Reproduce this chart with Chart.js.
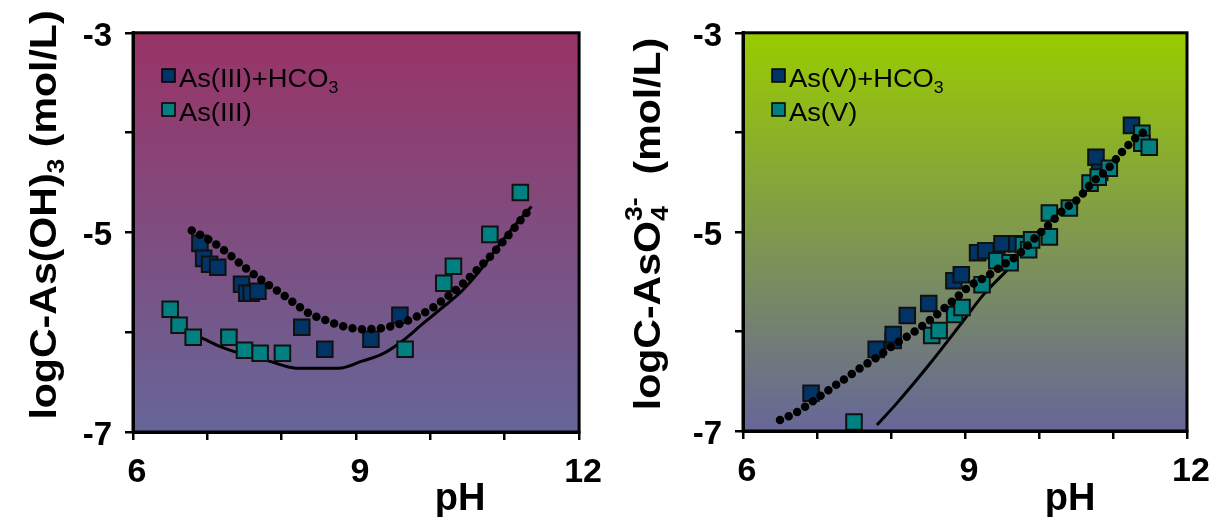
<!DOCTYPE html>
<html>
<head>
<meta charset="utf-8">
<title>logC vs pH</title>
<script src="https://cdn.jsdelivr.net/npm/chart.js@4.4.1/dist/chart.umd.min.js"></script>
<style>
  body { margin: 0; background: #fff; }
  .panel { position: absolute; top: 0; width: 610px; height: 517px; }
  #leftPanel { left: 0; }
  #rightPanel { left: 610px; }
</style>
</head>
<body>
<div class="panel" id="leftPanel"><canvas id="leftChart"></canvas></div>
<div class="panel" id="rightPanel"><canvas id="rightChart"></canvas></div>
<script>
'use strict';

// ticks (only these get a label, the others are plain marks)
let xTickLabels = [6, 9, 12];
let yTickLabels = [-3, -5, -7];

// ---- As(III) panel ----
let as3HcoPH = [6.90, 6.95, 7.03, 7.14, 7.46, 7.53, 7.59, 7.68, 8.27, 8.58, 9.20, 9.59];
let as3HcoLogC = [-5.11, -5.26, -5.32, -5.35, -5.52, -5.61, -5.61, -5.59, -5.95, -6.17, -6.07, -5.83];

let as3PH = [6.50, 6.62, 6.81, 7.29, 7.50, 7.71, 8.01, 9.66, 10.18, 10.31, 10.80, 11.21];
let as3LogC = [-5.77, -5.93, -6.05, -6.05, -6.18, -6.21, -6.21, -6.17, -5.51, -5.34, -5.02, -4.60];

// model curves
let as3HcoFitPH = [6.79, 6.99, 7.21, 7.52, 7.79, 8.01, 8.19, 8.39, 8.59, 8.82, 9.08, 9.35, 9.57, 9.80, 10.00, 10.20, 10.40, 10.58, 10.78, 10.98, 11.18, 11.37];
let as3HcoFitLogC = [-4.98, -5.06, -5.17, -5.36, -5.51, -5.62, -5.72, -5.82, -5.88, -5.94, -5.97, -5.96, -5.92, -5.85, -5.77, -5.66, -5.54, -5.41, -5.26, -5.09, -4.91, -4.73];

let as3FitPH = [6.52, 6.90, 7.16, 7.43, 7.83, 8.19, 8.77, 9.08, 9.35, 9.62, 9.89, 10.15, 10.42, 10.69, 10.96, 11.18, 11.36];
let as3FitLogC = [-5.94, -6.05, -6.14, -6.21, -6.29, -6.36, -6.36, -6.29, -6.22, -6.09, -5.92, -5.76, -5.59, -5.36, -5.09, -4.89, -4.74];

// ---- As(V) panel ----
let as5HcoPH = [6.92, 7.80, 8.03, 8.03, 8.22, 8.51, 8.85, 8.95, 9.17, 9.28, 9.50, 9.70, 10.77, 10.82, 11.25];
let as5HcoLogC = [-6.62, -6.18, -6.09, -6.03, -5.84, -5.72, -5.49, -5.43, -5.21, -5.19, -5.12, -5.12, -4.25, -4.40, -3.93];

let as5PH = [7.50, 8.55, 8.65, 8.86, 8.96, 9.23, 9.43, 9.61, 9.79, 9.86, 9.90, 10.14, 10.14, 10.41, 10.69, 10.80, 10.95, 11.39, 11.39, 11.49];
let as5LogC = [-6.91, -6.04, -5.99, -5.83, -5.76, -5.53, -5.29, -5.31, -5.13, -5.18, -5.08, -5.05, -4.81, -4.76, -4.51, -4.45, -4.36, -4.01, -4.11, -4.15];

let as5HcoFitPH = [6.50, 6.73, 7.02, 7.31, 7.60, 7.81, 8.03, 8.30, 8.57, 8.84, 9.07, 9.31, 9.52, 9.72, 9.92, 10.13, 10.33, 10.54, 10.71, 10.91, 11.12, 11.30, 11.41];
let as5HcoFitLogC = [-6.89, -6.81, -6.66, -6.51, -6.36, -6.26, -6.14, -6.01, -5.86, -5.69, -5.54, -5.44, -5.33, -5.23, -5.08, -4.93, -4.78, -4.66, -4.51, -4.38, -4.20, -4.06, -4.00];

let as5FitPH = [7.81, 8.08, 8.53, 8.98, 9.25, 9.63];
let as5FitLogC = [-6.94, -6.72, -6.32, -5.89, -5.63, -5.34];

const FONT = '"Liberation Sans", Arial, sans-serif';
const NAVY = '#003366';
const TEAL = '#008080';

function toPoints(xs, ys) {
    let pts = [];
    for (let i = 0; i < xs.length; i++) {
        pts.push({ x: xs[i], y: ys[i] });
    }
    return pts;
}

// text with sub/superscripts, optionally rotated and stretched along its run
function drawRich(ctx, parts, x, y, size, weight, stretch, angle, align) {
    ctx.save();
    ctx.translate(x, y);
    ctx.rotate(angle);
    ctx.scale(stretch, 1);
    ctx.fillStyle = '#000';
    ctx.textBaseline = 'alphabetic';
    ctx.textAlign = 'left';
    let total = 0;
    for (let p of parts) {
        ctx.font = weight + ' ' + (p.small ? size * 0.65 : size) + 'px ' + FONT;
        p.w = ctx.measureText(p.text).width;
        if (!p.stay) total += p.w;
    }
    let cx = align === 'center' ? -total / 2 : 0;
    for (let p of parts) {
        ctx.font = weight + ' ' + (p.small ? size * 0.65 : size) + 'px ' + FONT;
        ctx.fillText(p.text, cx, (p.dy || 0) * size);
        if (!p.stay) cx += p.w;
    }
    ctx.restore();
}

function decorPlugin(cfg) {
    return {
        id: 'decor',
        beforeDraw(chart) {
            let ctx = chart.ctx;
            let a = chart.chartArea;
            let g = ctx.createLinearGradient(0, a.top, 0, a.bottom);
            g.addColorStop(0, cfg.top);
            g.addColorStop(1, cfg.bottom);
            ctx.save();
            ctx.fillStyle = g;
            ctx.fillRect(a.left, a.top, a.right - a.left, a.bottom - a.top);
            ctx.restore();
        },
        afterDraw(chart) {
            let ctx = chart.ctx;
            let a = chart.chartArea;
            ctx.save();
            ctx.strokeStyle = '#000';
            ctx.lineWidth = 3;
            ctx.strokeRect(a.left, a.top, a.right - a.left, a.bottom - a.top);

            // legend
            for (let i = 0; i < cfg.legend.length; i++) {
                let item = cfg.legend[i];
                let sy = 69 + i * 34;
                ctx.fillStyle = item.color;
                ctx.fillRect(a.left + 29, sy, 13, 13);
                ctx.lineWidth = 1.5;
                ctx.strokeStyle = '#000';
                ctx.strokeRect(a.left + 29, sy, 13, 13);
                drawRich(ctx, item.parts, a.left + 46, sy + 18, 26, 'normal', 1.05, 0, 'left');
            }
            ctx.restore();

            // axis titles
            drawRich(ctx, cfg.yTitle, cfg.yTitleX, cfg.yTitleY, 36, 'bold', 1.14, -Math.PI / 2, 'center');
            drawRich(ctx, [{ text: 'pH' }], a.left + 327, 510, 38, 'bold', 1, 0, 'center');
        }
    };
}

function makeChart(id, datasets, cfg) {
    let ctx = document.getElementById(id).getContext('2d');
    return new Chart(ctx, {
        type: 'scatter',
        data: { datasets: datasets },
        options: {
            responsive: true,
            maintainAspectRatio: false,
            animation: false,
            layout: { padding: { left: 0, top: 30, right: cfg.padRight, bottom: 0 } },
            plugins: { legend: { display: false }, tooltip: { enabled: false } },
            scales: {
                x: {
                    type: 'linear',
                    min: 6,
                    max: 12,
                    afterFit: function (s) { s.height = cfg.xHeight; },
                    border: { display: true, color: '#000', width: 3 },
                    grid: { drawOnChartArea: false, drawTicks: true, tickLength: 8, lineWidth: 2.5, color: '#000' },
                    ticks: {
                        stepSize: 1,
                        autoSkip: false,
                        maxRotation: 0,
                        padding: 12,
                        labelOffset: 4,
                        color: '#000',
                        font: { family: FONT, size: 34, weight: 'bold' },
                        callback: function (v) { return xTickLabels.includes(v) ? String(v) : ''; }
                    }
                },
                y: {
                    type: 'linear',
                    min: -7,
                    max: -3,
                    afterFit: function (s) { s.width = 133; },
                    border: { display: true, color: '#000', width: 3 },
                    grid: { drawOnChartArea: false, drawTicks: true, tickLength: 8, lineWidth: 2.5, color: '#000' },
                    ticks: {
                        stepSize: 1,
                        autoSkip: false,
                        padding: 13,
                        labelOffset: 4,
                        color: '#000',
                        font: { family: FONT, size: 33, weight: 'bold' },
                        callback: function (v) { return yTickLabels.includes(v) ? String(v) : ''; }
                    }
                }
            }
        },
        plugins: [decorPlugin(cfg)]
    });
}

// first dataset is drawn on top
function panelDatasets(fitHcoX, fitHcoY, markTealX, markTealY, markNavyX, markNavyY, fitX, fitY) {
    return [
        {
            type: 'line',
            data: toPoints(fitHcoX, fitHcoY),
            borderColor: '#000',
            borderWidth: 8.5,
            borderDash: [0, 9.5],
            borderCapStyle: 'round',
            cubicInterpolationMode: 'monotone',
            pointRadius: 0,
            fill: false
        },
        {
            data: toPoints(markTealX, markTealY),
            pointStyle: 'rect',
            pointRadius: 11,
            backgroundColor: TEAL,
            borderColor: '#111',
            borderWidth: 2
        },
        {
            data: toPoints(markNavyX, markNavyY),
            pointStyle: 'rect',
            pointRadius: 11,
            backgroundColor: NAVY,
            borderColor: '#111',
            borderWidth: 2
        },
        {
            type: 'line',
            data: toPoints(fitX, fitY),
            borderColor: '#000',
            borderWidth: 3,
            cubicInterpolationMode: 'monotone',
            pointRadius: 0,
            fill: false
        }
    ];
}

makeChart('leftChart',
    panelDatasets(as3HcoFitPH, as3HcoFitLogC, as3PH, as3LogC, as3HcoPH, as3HcoLogC, as3FitPH, as3FitLogC),
    {
        top: '#993366',
        bottom: '#666699',
        padRight: 29,
        xHeight: 85,
        yTitleX: 56,
        yTitleY: 215,
        yTitle: [{ text: 'logC-As(OH)' }, { text: '3', small: true, dy: 0.22 }, { text: ' (mol/L)' }],
        legend: [
            { color: NAVY, parts: [{ text: 'As(III)+HCO' }, { text: '3', small: true, dy: 0.22 }] },
            { color: TEAL, parts: [{ text: 'As(III)' }] }
        ]
    });

makeChart('rightChart',
    panelDatasets(as5HcoFitPH, as5HcoFitLogC, as5PH, as5LogC, as5HcoPH, as5HcoLogC, as5FitPH, as5FitLogC),
    {
        top: '#99CC00',
        bottom: '#666699',
        padRight: 33,
        xHeight: 86,
        yTitleX: 50,
        yTitleY: 224,
        yTitle: [{ text: 'logC-AsO' }, { text: '4', small: true, dy: 0.22, stay: true }, { text: '3-', small: true, dy: -0.5 }, { text: '  (mol/L)' }],
        legend: [
            { color: NAVY, parts: [{ text: 'As(V)+HCO' }, { text: '3', small: true, dy: 0.22 }] },
            { color: TEAL, parts: [{ text: 'As(V)' }] }
        ]
    });
</script>
</body>
</html>
